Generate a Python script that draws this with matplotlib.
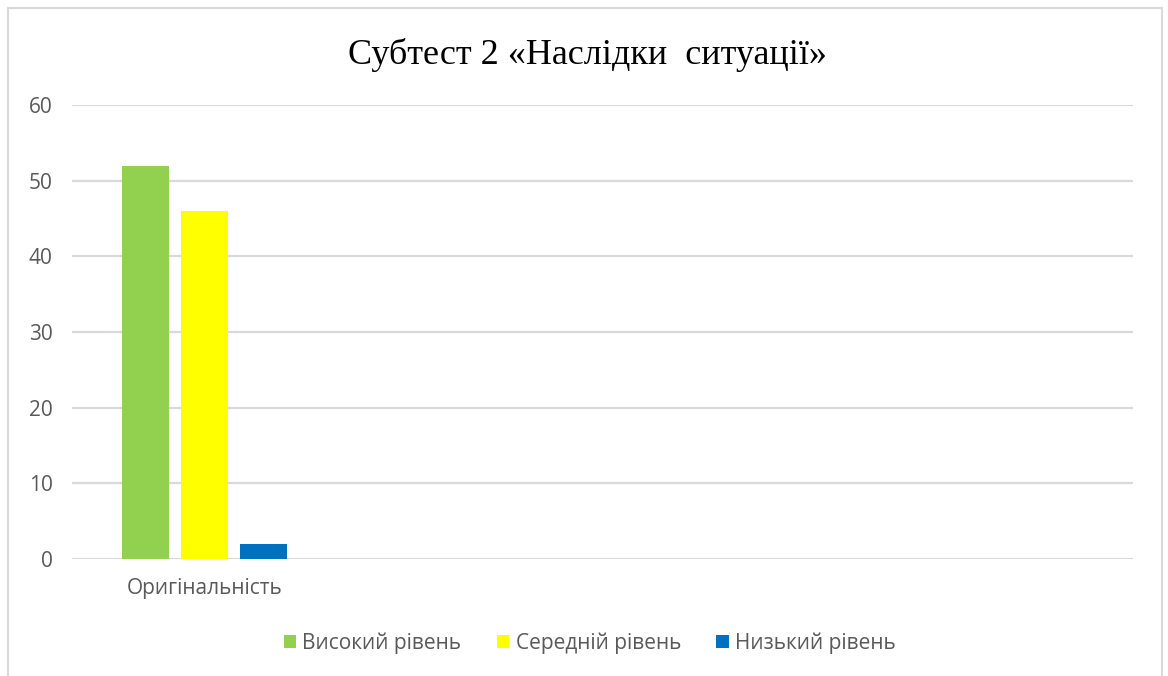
import matplotlib
matplotlib.use("Agg")
import matplotlib.pyplot as plt
import numpy as np

categories = ["Оригінальність"]
series_names = ["Високий рівень", "Середній рівень", "Низький рівень"]
values = [[52], [46], [2]]
colors = ["#92D050", "#FFFF00", "#0070C0"]
yticks = [0, 10, 20, 30, 40, 50, 60]

fig = plt.figure(figsize=(11.68, 6.76), dpi=100)
ax = fig.add_axes([72/1168, 1-559/676, (1133-72)/1168, (559-105)/676])

x = np.arange(len(categories))
bw = 0.177
step = 0.222
for i, (name, vals, c) in enumerate(zip(series_names, values, colors)):
    ax.bar(x + (i-1)*step, vals, width=bw, color=c, label=name, zorder=3)

ax.set_xlim(-0.5, 3.5)
ax.set_ylim(0, 60)
ax.set_yticks(yticks)
ax.set_xticks(x)
ax.set_xticklabels(categories)
ax.grid(axis="y", color="#D9D9D9", linewidth=1.6, zorder=0)
for s in ax.spines.values():
    s.set_visible(False)
ax.tick_params(axis="both", length=0, colors="#595959", labelsize=15)
ax.tick_params(axis="y", pad=14)
ax.tick_params(axis="x", pad=14)
for lab in ax.get_xticklabels() + ax.get_yticklabels():
    lab.set_fontfamily("Open Sans")

fig.suptitle("Субтест 2 «Наслідки  ситуації»", x=0.503, y=1-55/676, va="center",
             fontsize=26, family="Liberation Serif", color="#000000")

leg = fig.legend(loc="center", bbox_to_anchor=(0.505, 1-643/676), ncol=3, frameon=False,
                 prop={"family": "Open Sans", "size": 15}, handlelength=0.6, handleheight=0.6,
                 columnspacing=1.7, handletextpad=0.3, labelcolor="#595959")

border = plt.Rectangle((8/1168, -0.02), (1162-8)/1168, 1.0 - 8/676 + 0.02, transform=fig.transFigure,
                       fill=False, edgecolor="#D9D9D9", linewidth=1.5)
fig.patches.append(border)

fig.savefig("out.png", dpi=100)
